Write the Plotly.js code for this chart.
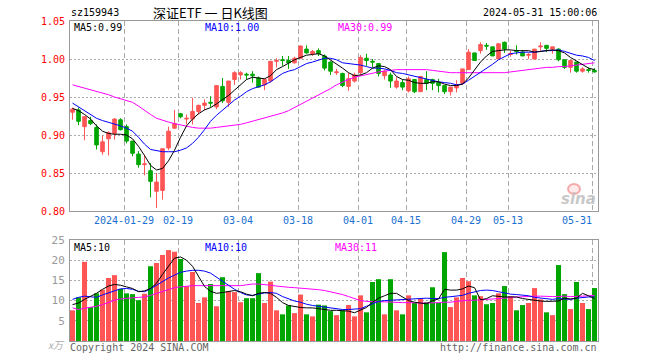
<!DOCTYPE html>
<html><head><meta charset="utf-8">
<script src="https://cdn.plot.ly/plotly-3.0.1.min.js"></script>
<style>html,body{margin:0;padding:0;background:#fff;}#c{width:660px;height:360px;}</style>
</head><body><div id="c"></div>
<script>
const dates = ['2024-01-16','2024-01-17','2024-01-18','2024-01-19','2024-01-22','2024-01-23','2024-01-24','2024-01-25','2024-01-26','2024-01-29','2024-01-30','2024-01-31',
'2024-02-01','2024-02-02','2024-02-05','2024-02-06','2024-02-07','2024-02-08','2024-02-19','2024-02-20','2024-02-21','2024-02-22','2024-02-23','2024-02-26','2024-02-27','2024-02-28','2024-02-29',
'2024-03-01','2024-03-04','2024-03-05','2024-03-06','2024-03-07','2024-03-08','2024-03-11','2024-03-12','2024-03-13','2024-03-14','2024-03-15','2024-03-18','2024-03-19','2024-03-20','2024-03-21','2024-03-22','2024-03-25','2024-03-26','2024-03-27','2024-03-28','2024-03-29',
'2024-04-01','2024-04-02','2024-04-03','2024-04-08','2024-04-09','2024-04-10','2024-04-11','2024-04-12','2024-04-15','2024-04-16','2024-04-17','2024-04-18','2024-04-19','2024-04-22','2024-04-23','2024-04-24','2024-04-25','2024-04-26','2024-04-29','2024-04-30',
'2024-05-06','2024-05-07','2024-05-08','2024-05-09','2024-05-10','2024-05-13','2024-05-14','2024-05-15','2024-05-16','2024-05-17','2024-05-20','2024-05-21','2024-05-22','2024-05-23','2024-05-24','2024-05-27','2024-05-28','2024-05-29','2024-05-30','2024-05-31'];

const open = [0.930,0.933,0.911,0.919,0.910,0.878,0.895,0.902,0.920,0.911,
0.892,0.875,0.861,0.853,0.826,0.827,0.883,0.909,0.928,0.921,
0.921,0.931,0.939,0.943,0.937,0.964,0.943,0.973,0.979,0.980,
0.980,0.975,0.966,0.971,0.997,0.999,0.998,0.995,1.001,1.013,
1.007,1.011,1.004,0.996,0.982,0.981,0.964,0.971,0.982,1.001,
0.997,0.994,0.978,0.979,0.963,0.969,0.958,0.973,0.957,0.973,
0.973,0.969,0.965,0.957,0.962,0.968,0.986,1.008,1.011,1.018,
1.016,1.000,1.022,1.006,1.011,1.009,1.005,1.000,1.016,1.018,
1.013,1.013,0.999,0.989,0.996,0.984,0.986,0.985];
const high = [0.936,0.936,0.925,0.924,0.914,0.899,0.905,0.922,0.922,0.914,
0.892,0.879,0.874,0.863,0.850,0.882,0.911,0.933,0.929,0.927,
0.949,0.940,0.947,0.951,0.965,0.975,0.971,0.984,0.984,0.982,
0.984,0.977,0.974,0.997,1.001,1.004,1.004,1.003,1.018,1.018,
1.012,1.014,1.006,0.997,0.987,0.982,0.982,0.982,1.005,1.007,
1.000,0.994,0.986,0.982,0.976,0.973,0.977,0.973,0.977,0.984,
0.974,0.974,0.965,0.963,0.972,0.987,1.013,1.008,1.022,1.021,
1.016,1.021,1.023,1.011,1.018,1.012,1.008,1.013,1.022,1.018,
1.016,1.014,1.000,0.998,0.996,0.989,0.989,0.988];
const low = [0.920,0.913,0.893,0.913,0.881,0.874,0.873,0.894,0.906,0.889,
0.872,0.857,0.847,0.818,0.804,0.815,0.880,0.908,0.922,0.914,
0.914,0.927,0.933,0.937,0.934,0.942,0.937,0.966,0.973,0.973,
0.969,0.962,0.959,0.969,0.989,0.991,0.987,0.994,1.000,1.007,
1.004,1.004,0.985,0.979,0.979,0.963,0.958,0.969,0.979,0.991,
0.989,0.977,0.973,0.962,0.961,0.959,0.956,0.955,0.957,0.959,
0.959,0.956,0.954,0.952,0.956,0.966,0.986,0.998,1.007,1.012,
1.004,1.000,1.008,1.003,1.006,1.004,1.000,1.000,1.011,1.009,
1.007,0.997,0.987,0.982,0.982,0.982,0.982,0.982];
const close = [0.934,0.918,0.924,0.915,0.887,0.891,0.903,0.921,0.907,0.892,
0.876,0.861,0.862,0.839,0.838,0.882,0.905,0.915,0.924,0.922,
0.931,0.939,0.942,0.942,0.965,0.945,0.971,0.982,0.982,0.979,
0.978,0.963,0.973,0.997,0.998,0.998,0.995,1.001,1.017,1.008,
1.010,1.007,0.988,0.984,0.983,0.965,0.974,0.979,1.002,0.998,
0.996,0.981,0.984,0.971,0.971,0.963,0.974,0.957,0.977,0.968,
0.968,0.965,0.957,0.963,0.966,0.987,1.009,0.998,1.019,1.017,
1.004,1.020,1.013,1.007,1.010,1.004,1.006,1.013,1.017,1.014,
1.016,0.999,0.989,0.998,0.984,0.987,0.985,0.983];

const ma5 = [0.935,0.932,0.927,0.921,0.912,0.905,0.902,0.901,0.901,0.900,
0.895,0.885,0.873,0.860,0.854,0.856,0.866,0.880,0.897,0.912,
0.921,0.928,0.933,0.936,0.941,0.946,0.952,0.959,0.966,0.973,
0.976,0.975,0.974,0.978,0.986,0.990,0.995,0.999,1.002,1.005,
1.006,1.007,1.004,0.999,0.994,0.988,0.982,0.978,0.979,0.982,
0.988,0.991,0.990,0.986,0.977,0.973,0.972,0.969,0.968,0.968,
0.970,0.970,0.967,0.965,0.965,0.967,0.975,0.985,0.996,1.004,
1.010,1.011,1.012,1.012,1.011,1.011,1.011,1.009,1.010,1.011,
1.012,1.011,1.008,1.002,0.997,0.992,0.988,0.986];
const ma10 = [0.942,0.937,0.932,0.927,0.922,0.919,0.917,0.915,0.912,0.909,
0.905,0.897,0.888,0.881,0.879,0.878,0.878,0.878,0.880,0.883,
0.889,0.897,0.907,0.918,0.926,0.933,0.939,0.946,0.951,0.957,
0.961,0.963,0.966,0.970,0.976,0.981,0.984,0.986,0.990,0.994,
0.996,0.998,1.001,1.001,0.999,0.995,0.994,0.993,0.992,0.990,
0.988,0.988,0.987,0.985,0.982,0.981,0.979,0.977,0.975,0.973,
0.972,0.970,0.969,0.968,0.966,0.967,0.972,0.977,0.982,0.988,
0.993,0.999,1.003,1.007,1.008,1.009,1.009,1.009,1.010,1.011,
1.011,1.012,1.010,1.007,1.005,1.004,1.002,0.998];
const ma30 = [0.966,0.964,0.962,0.960,0.958,0.956,0.953,0.950,0.948,0.945,
0.943,0.938,0.932,0.927,0.922,0.919,0.917,0.915,0.913,0.911,
0.910,0.909,0.909,0.909,0.910,0.911,0.912,0.913,0.914,0.916,
0.918,0.920,0.922,0.924,0.926,0.929,0.932,0.936,0.940,0.944,
0.948,0.952,0.957,0.961,0.966,0.970,0.973,0.976,0.978,0.980,
0.982,0.983,0.984,0.985,0.986,0.986,0.986,0.986,0.986,0.986,
0.985,0.984,0.983,0.982,0.982,0.982,0.982,0.982,0.982,0.982,
0.982,0.982,0.982,0.983,0.984,0.985,0.986,0.987,0.988,0.989,
0.989,0.990,0.990,0.991,0.992,0.993,0.994,0.995];

const volume = [7.6,10.8,19.6,8.4,11.8,12.7,15.6,16.3,12.9,11.8,
11.6,10.1,11.7,18.5,19.3,21.3,22.5,22.1,20.3,13.6,
17.1,9.4,10.8,14.1,8.6,15.8,12.3,12.1,9.6,10.6,
10.6,16.8,9.4,14.7,7.6,6.6,8.8,6.9,11.5,6.6,
6.1,9.0,8.8,7.4,6.4,7.6,8.9,6.1,11.3,7.1,
14.6,15.3,6.6,15.3,7.6,6.6,11.3,9.4,10.4,9.6,
13.3,9.4,22.0,8.4,10.8,15.6,14.8,11.3,11.1,9.1,
9.4,11.8,13.6,11.1,7.6,8.9,9.4,13.1,10.3,7.1,
6.4,18.8,11.6,7.9,14.6,9.4,7.9,13.1];
const volMa5 = [9.0,9.4,10.3,11.0,11.8,12.8,13.6,14.0,13.8,13.4,
13.0,12.2,12.4,13.0,14.3,16.5,18.5,20.5,20.8,20.0,
18.5,16.0,13.5,12.3,11.8,12.0,12.3,12.5,12.2,11.6,
11.2,11.8,12.0,11.8,10.8,9.5,8.8,8.5,8.3,8.2,
8.2,8.0,7.8,7.6,7.6,7.5,7.4,7.0,7.7,8.3,
9.6,10.6,11.2,11.8,11.8,11.0,10.0,9.6,9.4,9.2,
10.0,10.4,12.8,12.6,12.6,12.9,13.6,13.2,10.2,10.5,
11.2,11.0,10.9,10.9,10.9,10.5,10.3,10.0,9.9,9.8,
9.8,9.9,10.6,10.4,10.6,11.8,11.2,10.5];
const volMa10 = [10.3,10.8,11.1,10.9,10.8,11.4,11.9,12.4,12.9,13.0,
12.8,12.3,12.2,12.9,13.8,14.8,15.6,16.3,17.0,17.3,
17.5,17.5,17.3,16.8,15.8,14.8,13.6,12.8,12.0,11.4,
11.3,11.6,11.9,12.0,11.8,11.0,10.4,9.9,9.6,9.1,
8.8,8.6,8.4,8.1,7.9,7.8,7.8,7.9,8.0,8.6,
9.2,9.8,10.0,10.1,10.1,10.2,10.3,10.4,10.5,10.6,
10.5,10.5,10.8,11.0,11.1,11.3,11.8,12.2,12.5,12.6,
12.5,12.2,11.9,11.6,11.5,11.4,11.2,10.8,10.6,10.4,
10.3,10.5,10.4,10.3,10.6,10.8,10.9,10.9];
const volMa30 = [8.2,7.8,8.1,8.3,8.6,9.0,9.6,10.1,10.4,10.6,
10.7,10.8,10.9,11.3,11.8,12.3,12.8,13.2,13.4,13.6,
13.7,13.7,13.7,13.7,13.7,13.7,13.7,13.7,13.7,13.9,
14.1,14.1,14.0,13.8,13.6,13.4,13.3,13.2,13.1,13.0,
12.9,12.7,12.5,12.2,11.9,11.5,11.0,10.4,10.0,9.8,
9.7,9.7,9.7,9.6,9.6,9.5,9.5,9.4,9.4,9.4,
9.4,9.5,9.6,9.6,9.8,10.0,10.1,10.1,10.2,10.3,
10.3,10.4,10.6,10.8,10.9,10.9,11.0,11.1,11.1,11.0,
11.0,11.0,11.1,11.0,11.0,11.1,11.2,11.3];

const tickDates = ['2024-01-29','2024-02-19','2024-03-04','2024-03-18','2024-04-01','2024-04-15','2024-04-29','2024-05-13','2024-05-31'];
const tickLabels = ['2024-01-29','02-19','03-04','03-18','04-01','04-15','04-29','05-13','05-31'];
const priceTicks = [0.80,0.85,0.90,0.95,1.00,1.05];
const volTicks = [5,10,15,20,25];

const RED = '#ff5555', GREEN = '#00a600', GRID = '#aaaaaa', FRAME = '#999999';
const MONO = 'DejaVu Sans Mono, Liberation Mono, monospace';
const idx = dates.map((d, i) => i);
const tv = tickDates.map(d => dates.indexOf(d) - 0.42);
const xr = [-0.42, dates.length - 0.42];
const barColors = idx.map(i => close[i] >= open[i] ? RED : GREEN);
// last label sits left of its gridline (padded with no-break spaces)
const tt = tickLabels.map((t, i) => i === tickLabels.length - 1 ? t + '\u00a0'.repeat(t.length) : t);

// pixel helpers for text placement (plot area 70..598 x 21..341)
const PL = 70, PR = 598, PT = 21, PB = 341;
const px = v => (v - PL) / (PR - PL);
const py = v => (PB - v) / (PB - PT);

const traces = [
  {type:'candlestick', x: idx, open, high, low, close, xaxis:'x', yaxis:'y',
   increasing:{line:{color:RED,width:1}, fillcolor:RED},
   decreasing:{line:{color:GREEN,width:1}, fillcolor:GREEN},
   whiskerwidth:0, hoverinfo:'skip'},
  {type:'scatter', mode:'lines', x: idx, y: ma30, xaxis:'x', yaxis:'y', line:{color:'#ff00ff', width:1}, hoverinfo:'skip'},
  {type:'scatter', mode:'lines', x: idx, y: ma10, xaxis:'x', yaxis:'y', line:{color:'#0000ff', width:1}, hoverinfo:'skip'},
  {type:'scatter', mode:'lines', x: idx, y: ma5, xaxis:'x', yaxis:'y', line:{color:'#000000', width:1}, hoverinfo:'skip'},
  {type:'bar', x: idx, y: volume, xaxis:'x2', yaxis:'y2', width:0.84, marker:{color: barColors, line:{width:0}}, hoverinfo:'skip'},
  {type:'scatter', mode:'lines', x: idx, y: volMa30, xaxis:'x2', yaxis:'y2', line:{color:'#ff00ff', width:1}, hoverinfo:'skip'},
  {type:'scatter', mode:'lines', x: idx, y: volMa10, xaxis:'x2', yaxis:'y2', line:{color:'#0000ff', width:1}, hoverinfo:'skip'},
  {type:'scatter', mode:'lines', x: idx, y: volMa5, xaxis:'x2', yaxis:'y2', line:{color:'#000000', width:1}, hoverinfo:'skip'}
];

function ann(text, x, y, xanchor, color, size, family, extra) {
  return Object.assign({text, x: px(x), y: py(y), xref:'paper', yref:'paper', xanchor, yanchor:'middle',
    showarrow:false, borderpad:0, font:{family: family || MONO, size: size || 10, color: color || '#000'}}, extra || {});
}

const layout = {
  width:660, height:360, paper_bgcolor:'#fff', plot_bgcolor:'#fff', showlegend:false,
  margin:{l:70, r:62, t:21, b:19}, boxgap:0.15,
  xaxis:{domain:[0,1], anchor:'y', range:xr, tickvals:tv, ticktext:tt,
    showgrid:true, gridcolor:GRID, griddash:'5px,3px', gridwidth:1, zeroline:false,
    showline:true, mirror:true, linecolor:FRAME, linewidth:1, ticks:'', rangeslider:{visible:false},
    tickfont:{family:MONO, size:10, color:'#1a70d0'}, ticklabelstandoff:0},
  yaxis:{domain:[py(211),1], anchor:'x', range:[0.80,1.05], tickvals:priceTicks, tickformat:'.2f',
    showgrid:true, gridcolor:GRID, griddash:'2px,2px', gridwidth:1, zeroline:false,
    showline:true, mirror:true, linecolor:FRAME, linewidth:1, ticks:'',
    tickfont:{family:MONO, size:10, color:'#ff0000'}, ticklabelstandoff:2},
  xaxis2:{domain:[0,1], anchor:'y2', range:xr, tickvals:tv, showticklabels:false,
    showgrid:true, gridcolor:GRID, griddash:'5px,3px', gridwidth:1, zeroline:false,
    showline:true, mirror:true, linecolor:FRAME, linewidth:1, ticks:''},
  yaxis2:{domain:[0, py(240)], anchor:'x2', range:[0,25], tickvals:volTicks,
    showgrid:true, gridcolor:GRID, griddash:'2px,2px', gridwidth:1, zeroline:false,
    showline:true, mirror:true, linecolor:FRAME, linewidth:1, ticks:'',
    tickfont:{family:MONO, size:11, color:'#999999'}, ticklabelstandoff:2},
  annotations:[
    ann('sz159943', 70, 12, 'left', '#000', 10),
    ann('深证ETF 一 日K线图', 152, 12, 'left', '#000', 13, 'Noto Sans CJK SC, sans-serif'),
    ann('2024-05-31 15:00:06', 598, 12, 'right', '#000', 10),
    ann('MA5:0.99', 73, 27, 'left', '#000', 10),
    ann('MA10:1.00', 204, 27, 'left', '#0000ff', 10),
    ann('MA30:0.99', 337, 27, 'left', '#ff00ff', 10),
    ann('MA5:10', 73, 247, 'left', '#000', 10),
    ann('MA10:10', 204, 247, 'left', '#0000ff', 10),
    ann('MA30:11', 334, 247, 'left', '#ff00ff', 10),
    ann('x万', 66, 344, 'right', '#aaaaaa', 10, 'Noto Sans CJK SC, sans-serif', {font:{family:'Noto Sans CJK SC, sans-serif', size:10, color:'#aaaaaa', style:'italic'}}),
    ann('Copyright 2024 SINA.COM', 69, 347, 'left', '#666666', 10),
    ann('http://finance.sina.com.cn', 598, 347, 'right', '#666666', 10),
    ann('sina', 597, 199, 'right', 'rgba(190,190,190,0.85)', 15, 'DejaVu Sans, sans-serif', {font:{family:'DejaVu Sans, sans-serif', size:15, color:'rgba(190,190,190,0.85)', style:'italic', weight:'bold'}})
  ],
  shapes:[
    {type:'circle', xref:'paper', yref:'paper', x0:px(568), x1:px(580), y0:py(194), y1:py(184),
     line:{color:'rgba(240,140,140,0.7)', width:2}, fillcolor:'rgba(255,200,200,0.4)'}
  ]
};

Plotly.newPlot('c', traces, layout, {staticPlot:true, displayModeBar:false});
</script>
</body></html>
